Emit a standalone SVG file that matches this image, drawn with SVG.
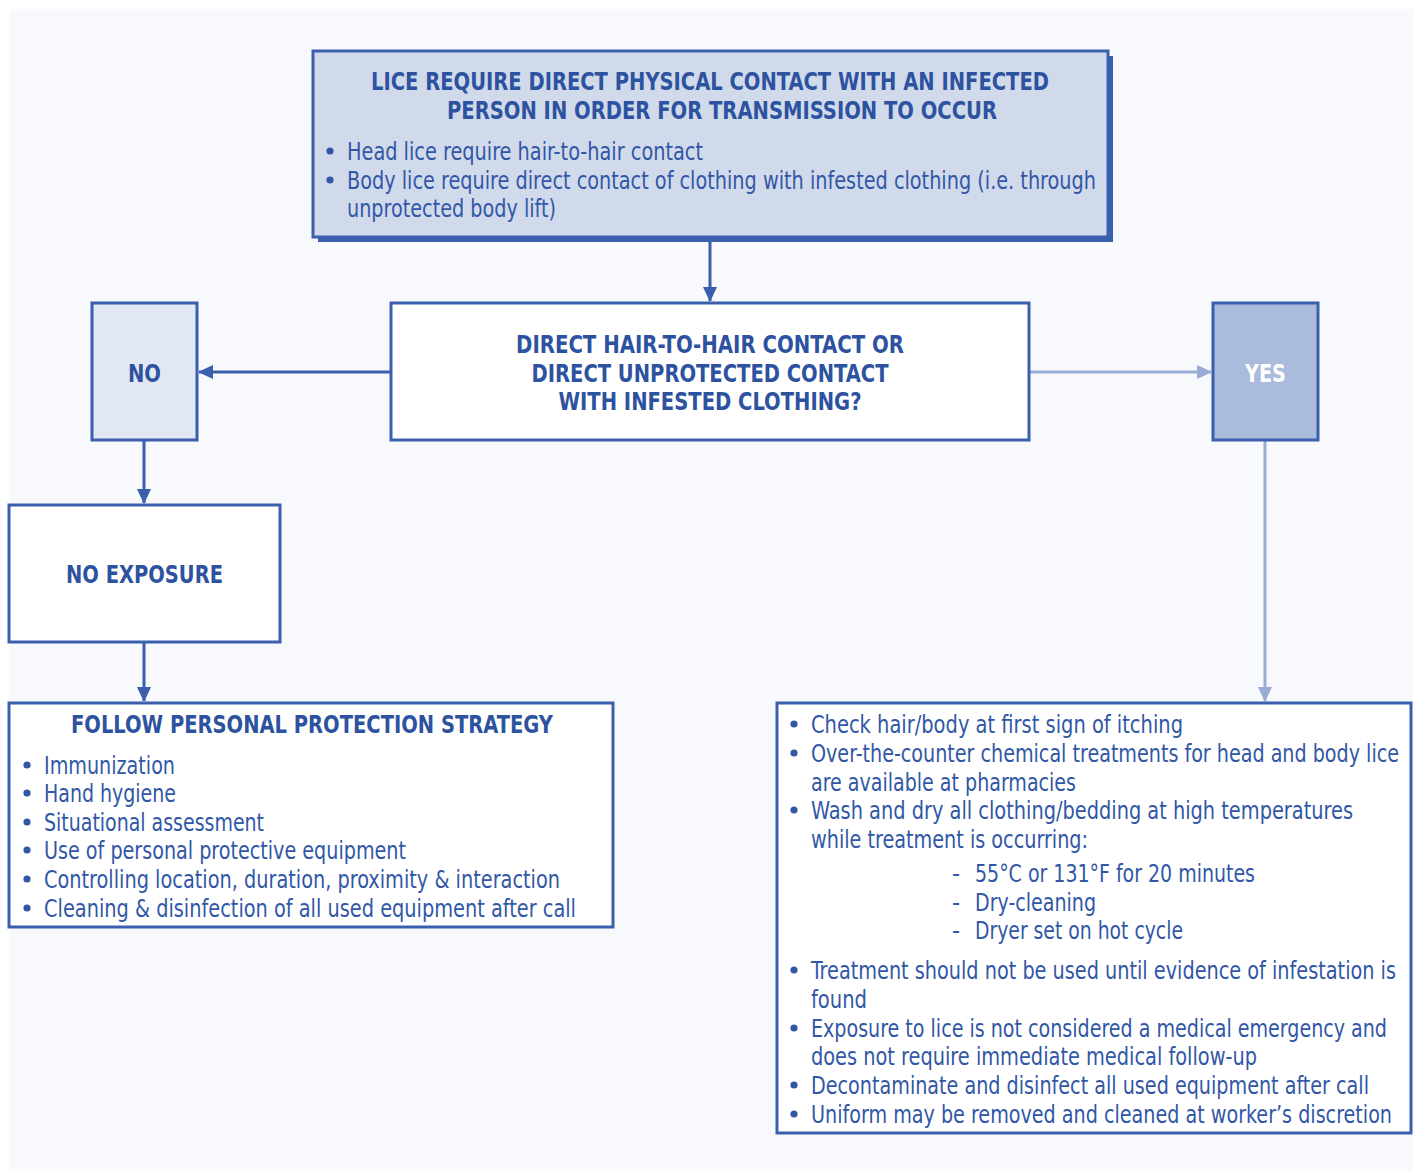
<svg xmlns="http://www.w3.org/2000/svg" width="1418" height="1171" viewBox="0 0 1418 1171">
  <defs>
    <style>
      .box { stroke: #3a5fad; stroke-width: 3; }
      .t { font-family: "Liberation Sans Narrow", "DejaVu Sans Condensed", "Liberation Sans", sans-serif; fill: #3157a6; font-size: 25px; }
      .h { font-family: "Liberation Sans Narrow", "DejaVu Sans Condensed", "Liberation Sans", sans-serif; fill: #2d52a0; font-size: 25px; font-weight: bold; }
      .dot { fill: #3157a6; }
      .dark { stroke: #3a5fad; stroke-width: 3; fill: none; }
      .light { stroke: #98add6; stroke-width: 3; fill: none; }
    </style>
    <marker id="arrDark" markerWidth="16" markerHeight="16" refX="14" refY="8" orient="auto" markerUnits="userSpaceOnUse">
      <path d="M0,1 L15,8 L0,15 Z" fill="#3a5fad"/>
    </marker>
    <marker id="arrLight" markerWidth="16" markerHeight="16" refX="14" refY="8" orient="auto" markerUnits="userSpaceOnUse">
      <path d="M0,1 L15,8 L0,15 Z" fill="#98add6"/>
    </marker>
  </defs>

  <!-- page -->
  <rect x="0" y="0" width="1418" height="1171" fill="#ffffff"/>
  <rect x="9" y="9" width="1404" height="1162" fill="#f8f9fc"/>

  <!-- connectors -->
  <g id="connectors">
    <line class="dark" x1="710" y1="242" x2="710" y2="301" marker-end="url(#arrDark)"/>
    <line class="dark" x1="391" y1="372" x2="199" y2="372" marker-end="url(#arrDark)"/>
    <line class="light" x1="1029" y1="372" x2="1211" y2="372" marker-end="url(#arrLight)"/>
    <line class="dark" x1="144" y1="440" x2="144" y2="503" marker-end="url(#arrDark)"/>
    <line class="dark" x1="144" y1="642" x2="144" y2="701" marker-end="url(#arrDark)"/>
    <line class="light" x1="1265" y1="440" x2="1265" y2="701" marker-end="url(#arrLight)"/>
  </g>

  <!-- transmission rule -->
  <g id="node-transmission">
    <rect x="318" y="56" width="795" height="186" fill="#3a5fad"/>
    <rect class="box" x="313" y="51" width="795" height="186" fill="#d1daeb" stroke-width="2"/>
    <text class="h" x="710" y="90" text-anchor="middle" textLength="678" lengthAdjust="spacingAndGlyphs">LICE REQUIRE DIRECT PHYSICAL CONTACT WITH AN INFECTED</text>
    <text class="h" x="722" y="119" text-anchor="middle" textLength="550" lengthAdjust="spacingAndGlyphs">PERSON IN ORDER FOR TRANSMISSION TO OCCUR</text>
    <circle class="dot" cx="330" cy="151" r="3.6"/>
    <text class="t" x="347" y="160" textLength="356" lengthAdjust="spacingAndGlyphs">Head lice require hair-to-hair contact</text>
    <circle class="dot" cx="330" cy="180" r="3.6"/>
    <text class="t" x="347" y="189" textLength="749" lengthAdjust="spacingAndGlyphs">Body lice require direct contact of clothing with infested clothing (i.e. through</text>
    <text class="t" x="347" y="217" textLength="209" lengthAdjust="spacingAndGlyphs">unprotected body lift)</text>
  </g>

  <!-- decision -->
  <g id="node-decision">
    <rect class="box" x="391" y="303" width="638" height="137" fill="#ffffff"/>
    <text class="h" x="710" y="353" text-anchor="middle" textLength="388" lengthAdjust="spacingAndGlyphs">DIRECT HAIR-TO-HAIR CONTACT OR</text>
    <text class="h" x="710" y="382" text-anchor="middle" textLength="357" lengthAdjust="spacingAndGlyphs">DIRECT UNPROTECTED CONTACT</text>
    <text class="h" x="710" y="410" text-anchor="middle" textLength="303" lengthAdjust="spacingAndGlyphs">WITH INFESTED CLOTHING?</text>
  </g>

  <!-- no -->
  <g id="node-no">
    <rect class="box" x="92" y="303" width="105" height="137" fill="#e1e7f3"/>
    <text class="h" x="144.5" y="382" text-anchor="middle" textLength="33" lengthAdjust="spacingAndGlyphs">NO</text>
  </g>

  <!-- yes -->
  <g id="node-yes">
    <rect class="box" x="1213" y="303" width="105" height="137" fill="#aabbdc"/>
    <text class="h" x="1265.5" y="382" text-anchor="middle" textLength="41" lengthAdjust="spacingAndGlyphs" style="fill:#ffffff">YES</text>
  </g>

  <!-- no exposure -->
  <g id="node-no-exposure">
    <rect class="box" x="9" y="505" width="271" height="137" fill="#ffffff"/>
    <text class="h" x="144.5" y="583" text-anchor="middle" textLength="157" lengthAdjust="spacingAndGlyphs">NO EXPOSURE</text>
  </g>

  <!-- protection strategy -->
  <g id="node-strategy">
    <rect class="box" x="9" y="703" width="604" height="224" fill="#ffffff"/>
    <text class="h" x="312" y="733" text-anchor="middle" textLength="482" lengthAdjust="spacingAndGlyphs">FOLLOW PERSONAL PROTECTION STRATEGY</text>
    <circle class="dot" cx="27" cy="765" r="3.6"/>
    <text class="t" x="44" y="774" textLength="131" lengthAdjust="spacingAndGlyphs">Immunization</text>
    <circle class="dot" cx="27" cy="793" r="3.6"/>
    <text class="t" x="44" y="802" textLength="132" lengthAdjust="spacingAndGlyphs">Hand hygiene</text>
    <circle class="dot" cx="27" cy="822" r="3.6"/>
    <text class="t" x="44" y="831" textLength="220" lengthAdjust="spacingAndGlyphs">Situational assessment</text>
    <circle class="dot" cx="27" cy="850" r="3.6"/>
    <text class="t" x="44" y="859" textLength="362" lengthAdjust="spacingAndGlyphs">Use of personal protective equipment</text>
    <circle class="dot" cx="27" cy="879" r="3.6"/>
    <text class="t" x="44" y="888" textLength="516" lengthAdjust="spacingAndGlyphs">Controlling location, duration, proximity &amp; interaction</text>
    <circle class="dot" cx="27" cy="908" r="3.6"/>
    <text class="t" x="44" y="917" textLength="532" lengthAdjust="spacingAndGlyphs">Cleaning &amp; disinfection of all used equipment after call</text>
  </g>

  <!-- exposure actions -->
  <g id="node-actions">
    <rect class="box" x="777" y="703" width="634" height="430" fill="#ffffff"/>
    <circle class="dot" cx="794" cy="724" r="3.6"/>
    <text class="t" x="811" y="733" textLength="372" lengthAdjust="spacingAndGlyphs">Check hair/body at first sign of itching</text>
    <circle class="dot" cx="794" cy="753" r="3.6"/>
    <text class="t" x="811" y="762" textLength="588" lengthAdjust="spacingAndGlyphs">Over-the-counter chemical treatments for head and body lice</text>
    <text class="t" x="811" y="791" textLength="265" lengthAdjust="spacingAndGlyphs">are available at pharmacies</text>
    <circle class="dot" cx="794" cy="810" r="3.6"/>
    <text class="t" x="811" y="819" textLength="542" lengthAdjust="spacingAndGlyphs">Wash and dry all clothing/bedding at high temperatures</text>
    <text class="t" x="811" y="848" textLength="277" lengthAdjust="spacingAndGlyphs">while treatment is occurring:</text>
    <text class="t" x="952" y="882">-</text>
    <text class="t" x="975" y="882" textLength="280" lengthAdjust="spacingAndGlyphs">55°C or 131°F for 20 minutes</text>
    <text class="t" x="952" y="911">-</text>
    <text class="t" x="975" y="911" textLength="121" lengthAdjust="spacingAndGlyphs">Dry-cleaning</text>
    <text class="t" x="952" y="939">-</text>
    <text class="t" x="975" y="939" textLength="208" lengthAdjust="spacingAndGlyphs">Dryer set on hot cycle</text>
    <circle class="dot" cx="794" cy="970" r="3.6"/>
    <text class="t" x="811" y="979" textLength="585" lengthAdjust="spacingAndGlyphs">Treatment should not be used until evidence of infestation is</text>
    <text class="t" x="811" y="1008" textLength="56" lengthAdjust="spacingAndGlyphs">found</text>
    <circle class="dot" cx="794" cy="1028" r="3.6"/>
    <text class="t" x="811" y="1037" textLength="576" lengthAdjust="spacingAndGlyphs">Exposure to lice is not considered a medical emergency and</text>
    <text class="t" x="811" y="1065" textLength="446" lengthAdjust="spacingAndGlyphs">does not require immediate medical follow-up</text>
    <circle class="dot" cx="794" cy="1085" r="3.6"/>
    <text class="t" x="811" y="1094" textLength="558" lengthAdjust="spacingAndGlyphs">Decontaminate and disinfect all used equipment after call</text>
    <circle class="dot" cx="794" cy="1114" r="3.6"/>
    <text class="t" x="811" y="1123" textLength="581" lengthAdjust="spacingAndGlyphs">Uniform may be removed and cleaned at worker’s discretion</text>
  </g>
</svg>
